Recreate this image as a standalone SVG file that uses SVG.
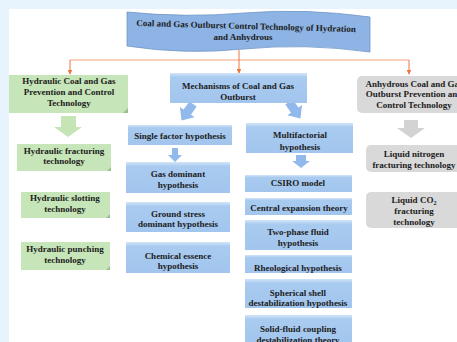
<svg xmlns="http://www.w3.org/2000/svg" width="457" height="342" viewBox="0 0 457 342">
<defs>
<linearGradient id="gb" x1="0" y1="0" x2="0" y2="1">
<stop offset="0" stop-color="#d3e5f8"/><stop offset="0.14" stop-color="#a9cbf0"/><stop offset="1" stop-color="#a2c5ee"/>
</linearGradient>
<marker id="ah" viewBox="0 0 8 8" refX="7" refY="4" markerWidth="5" markerHeight="5" orient="auto">
<path d="M0,0 L8,4 L0,8 Z" fill="#ee7540"/>
</marker>
</defs>
<style>
text{font-family:"Liberation Serif","Times New Roman",serif;font-weight:bold;font-size:9px;fill:#1c1c1c;text-anchor:middle}
.g{fill:#c6e5b8}
.fold{fill:#9dbf8d}
.b{fill:url(#gb)}
.gr{fill:#d9d9d9}
.ga{fill:#c5e5b7}
.ba{fill:#92b9eb}
.gra{fill:#d3d3d3}
.c{stroke:#f59f7a;stroke-width:1;fill:none}
.cv{stroke:#ee7540;stroke-width:1;fill:none}
</style>
<rect width="457" height="342" fill="#e8f4fd"/>
<rect x="9" y="9" width="448" height="333" fill="#ffffff"/>

<g id="connectors">
<path class="c" d="M70,60 H409"/>
<path class="cv" d="M239,50 V60"/>
<path class="cv" d="M70,60 V74" marker-end="url(#ah)"/>
<path class="cv" d="M239,60 V73" marker-end="url(#ah)"/>
<path class="cv" d="M409,60 V74" marker-end="url(#ah)"/>
<path class="ga" d="M61,116 H76 V127 H82 L68,137 L54,127 H61 Z"/>
<path class="ba" transform="translate(193,104) rotate(35)" d="M-4.5,0 H4.5 V10 H9 L0,20 L-9,10 H-4.5 Z"/>
<path class="ba" transform="translate(289,102) rotate(-35)" d="M-4.5,0 H4.5 V10 H9 L0,20 L-9,10 H-4.5 Z"/>
<path class="ba" d="M172,148 H178 V155 H182 L175,162 L168,155 H172 Z"/>
<path class="ba" d="M296,155 H306 V161 H310 L301,168 L292,161 H296 Z"/>
<path class="gra" d="M404,120 H418 V128 H425 L411,138 L397,128 H404 Z"/>
</g>

<g id="title">
<path d="M127,12 Q185,18 244,13 Q305,8 370,17 L370,52 Q305,43 244,49 Q185,55 127,46 Z" fill="#8db4e4" stroke="#6e95c6" stroke-width="0.8"/>
<text transform="rotate(1.6 246 27)" x="246" y="29" font-size="9.2">Coal and Gas Outburst Control Technology of Hydration</text>
<text x="243" y="40" font-size="9.2">and Anhydrous</text>
</g>

<g id="hydraulic">
<rect class="g" x="9" y="75" width="119" height="38"/>
<path class="fold" d="M128,108 L123,113 L128,113 Z"/>
<text x="69" y="84">Hydraulic Coal and Gas</text>
<text x="69" y="95">Prevention and Control</text>
<text x="69" y="106">Technology</text>
</g>
<g id="frac">
<rect class="g" x="17" y="144" width="94" height="27"/>
<path class="fold" d="M111,167 L107,171 L111,171 Z"/>
<text x="64" y="154">Hydraulic fracturing</text>
<text x="64" y="164">technology</text>
</g>
<g id="slot">
<rect class="g" x="21" y="192" width="89" height="26"/>
<path class="fold" d="M110,214 L106,218 L110,218 Z"/>
<text x="65" y="201">Hydraulic slotting</text>
<text x="65" y="212">technology</text>
</g>
<g id="punch">
<rect class="g" x="21" y="242" width="89" height="28"/>
<path class="fold" d="M110,266 L106,270 L110,270 Z"/>
<text x="65" y="252">Hydraulic punching</text>
<text x="65" y="263">technology</text>
</g>

<g id="mech">
<rect class="b" x="170" y="73" width="137" height="30"/>
<text x="238" y="89">Mechanisms of Coal and Gas</text>
<text x="238" y="100">Outburst</text>
</g>
<g id="single">
<rect class="b" x="128" y="125" width="104" height="20"/>
<text x="180" y="138.5">Single factor hypothesis</text>
</g>
<g id="gas">
<rect class="b" x="126" y="162" width="104" height="31"/>
<text x="178" y="177">Gas dominant</text>
<text x="178" y="188">hypothesis</text>
</g>
<g id="ground">
<rect class="b" x="126" y="202" width="104" height="30"/>
<text x="178" y="217">Ground stress</text>
<text x="178" y="227">dominant hypothesis</text>
</g>
<g id="chem">
<rect class="b" x="126" y="242" width="104" height="31"/>
<text x="178" y="259">Chemical essence</text>
<text x="178" y="269">hypothesis</text>
</g>

<g id="multi">
<rect class="b" x="246" y="123" width="107" height="30"/>
<text x="300" y="138">Multifactorial</text>
<text x="300" y="150">hypothesis</text>
</g>
<g id="csiro">
<rect class="b" x="245" y="175" width="107" height="17"/>
<text x="298" y="186">CSIRO model</text>
</g>
<g id="central">
<rect class="b" x="245" y="198" width="107" height="17"/>
<text x="299" y="211">Central expansion theory</text>
</g>
<g id="twophase">
<rect class="b" x="245" y="220" width="107" height="30"/>
<text x="298" y="235">Two-phase fluid</text>
<text x="298" y="246">hypothesis</text>
</g>
<g id="rheo">
<rect class="b" x="245" y="255" width="107" height="18"/>
<text x="298" y="271">Rheological hypothesis</text>
</g>
<g id="spherical">
<rect class="b" x="245" y="279" width="107" height="29"/>
<text x="298" y="296">Spherical shell</text>
<text x="298" y="306">destabilization hypothesis</text>
</g>
<g id="solid">
<rect class="b" x="245" y="315" width="107" height="30"/>
<text x="298" y="332">Solid-fluid coupling</text>
<text x="298" y="343">destabilization theory</text>
</g>

<g id="anhydrous">
<rect class="gr" x="357" y="76" width="110" height="37" rx="5"/>
<text x="414" y="87">Anhydrous Coal and Gas</text>
<text x="414" y="97">Outburst Prevention and</text>
<text x="414" y="108">Control Technology</text>
</g>
<g id="ln2">
<rect class="gr" x="366" y="145" width="100" height="27" rx="5"/>
<text x="414" y="157">Liquid nitrogen</text>
<text x="414" y="168">fracturing technology</text>
</g>
<g id="co2">
<rect class="gr" x="366" y="192" width="100" height="36" rx="5"/>
<text x="414" y="203">Liquid CO<tspan font-size="6" dy="1.5">2</tspan></text>
<text x="414" y="214">fracturing</text>
<text x="414" y="225">technology</text>
</g>
</svg>
